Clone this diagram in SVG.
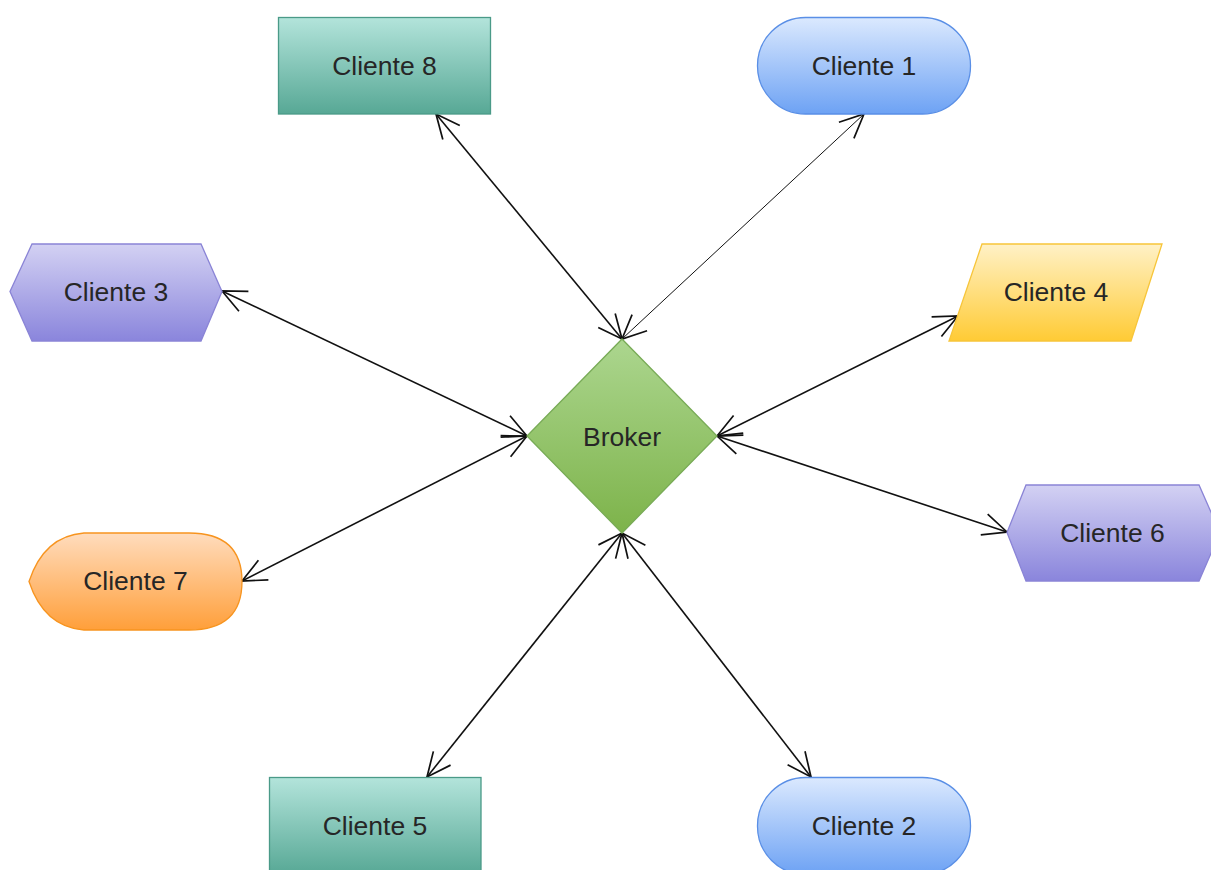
<svg xmlns="http://www.w3.org/2000/svg" width="1211" height="870" viewBox="0 0 1211 870">
<style>
text{font-family:"Liberation Sans",Arial,sans-serif;font-size:26.5px;fill:#262626;text-anchor:middle}
.edge{fill:none;stroke:#111;stroke-width:1.6}
.thin{stroke-width:1}
.teal{fill:url(#gTeal);stroke:#4a9a88;stroke-width:1.3}
.blue{fill:url(#gBlue);stroke:#5a8fe6;stroke-width:1.3}
.purple{fill:url(#gPurple);stroke:#8a84d6;stroke-width:1.3}
.yellow{fill:url(#gYellow);stroke:#f7c53a;stroke-width:1.3}
.orange{fill:url(#gOrange);stroke:#f7941f;stroke-width:1.3}
.green{fill:url(#gGreen);stroke:#78ab56;stroke-width:1.3}
</style>
<defs>
<linearGradient id="gTeal" x1="0" y1="0" x2="0" y2="1"><stop offset="0" stop-color="#b3e4db"/><stop offset="1" stop-color="#57a895"/></linearGradient>
<linearGradient id="gBlue" x1="0" y1="0" x2="0" y2="1"><stop offset="0" stop-color="#dbe9fe"/><stop offset="1" stop-color="#6da2f4"/></linearGradient>
<linearGradient id="gPurple" x1="0" y1="0" x2="0" y2="1"><stop offset="0" stop-color="#d3d1f3"/><stop offset="1" stop-color="#8a85dc"/></linearGradient>
<linearGradient id="gYellow" x1="0" y1="0" x2="0" y2="1"><stop offset="0" stop-color="#fff1c6"/><stop offset="1" stop-color="#ffcb35"/></linearGradient>
<linearGradient id="gOrange" x1="0" y1="0" x2="0" y2="1"><stop offset="0" stop-color="#ffdcbd"/><stop offset="1" stop-color="#ff9f3a"/></linearGradient>
<linearGradient id="gGreen" x1="0" y1="0" x2="0" y2="1"><stop offset="0" stop-color="#acd68f"/><stop offset="1" stop-color="#7db34a"/></linearGradient>
<marker id="open" viewBox="-26 -13 28 26" refX="0" refY="0" markerWidth="28" markerHeight="26" markerUnits="userSpaceOnUse" orient="auto-start-reverse">
<path d="M-24,-11 L0,0 L-24,11" fill="none" stroke="#111" stroke-width="1.7"/>
</marker>
</defs>

<g id="connectors">
<path class="edge" d="M436,114 L622,339" marker-start="url(#open)" marker-end="url(#open)"/>
<path class="edge thin" d="M864,114 L622,339" marker-start="url(#open)" marker-end="url(#open)"/>
<path class="edge" d="M222,291 L527,436" marker-start="url(#open)" marker-end="url(#open)"/>
<path class="edge" d="M242,581 L527,436" marker-start="url(#open)" marker-end="url(#open)"/>
<path class="edge" d="M958,316 L717,436" marker-start="url(#open)" marker-end="url(#open)"/>
<path class="edge" d="M1007,532 L717,436" marker-start="url(#open)" marker-end="url(#open)"/>
<path class="edge" d="M427,777 L622,533" marker-start="url(#open)" marker-end="url(#open)"/>
<path class="edge" d="M811,777 L622,533" marker-start="url(#open)" marker-end="url(#open)"/>
</g>

<g id="broker">
<path class="green" d="M622,339 L717,436 L622,533 L527,436 Z"/>
<text x="622" y="446">Broker</text>
</g>

<g id="cliente8">
<rect class="teal" x="278.5" y="17.5" width="212" height="96.5"/>
<text x="384.5" y="75">Cliente 8</text>
</g>

<g id="cliente1">
<rect class="blue" x="757.5" y="17.5" width="213" height="96.5" rx="48" ry="48"/>
<text x="864" y="75">Cliente 1</text>
</g>

<g id="cliente3">
<path class="purple" d="M32,244 L201,244 L222,291.5 L201,341 L32,341 L10,291.5 Z"/>
<text x="116" y="301">Cliente 3</text>
</g>

<g id="cliente4">
<path class="yellow" d="M982,244 L1162,244 L1131,341 L949,341 Z"/>
<text x="1056" y="301">Cliente 4</text>
</g>

<g id="cliente7">
<path class="orange" d="M29,581.5 Q44,536 84,533 L189,533 Q242,533 242,581.5 Q242,630 189,630 L84,630 Q44,627 29,581.5 Z"/>
<text x="135.5" y="590">Cliente 7</text>
</g>

<g id="cliente6">
<path class="purple" d="M1026,485 L1199,485 L1220,532.5 L1199,581 L1026,581 L1007,532.5 Z"/>
<text x="1112.5" y="542">Cliente 6</text>
</g>

<g id="cliente5">
<rect class="teal" x="269.5" y="777.5" width="211.5" height="97"/>
<text x="375" y="835">Cliente 5</text>
</g>

<g id="cliente2">
<rect class="blue" x="757.5" y="777.5" width="213" height="97" rx="48" ry="48"/>
<text x="864" y="835">Cliente 2</text>
</g>
</svg>
